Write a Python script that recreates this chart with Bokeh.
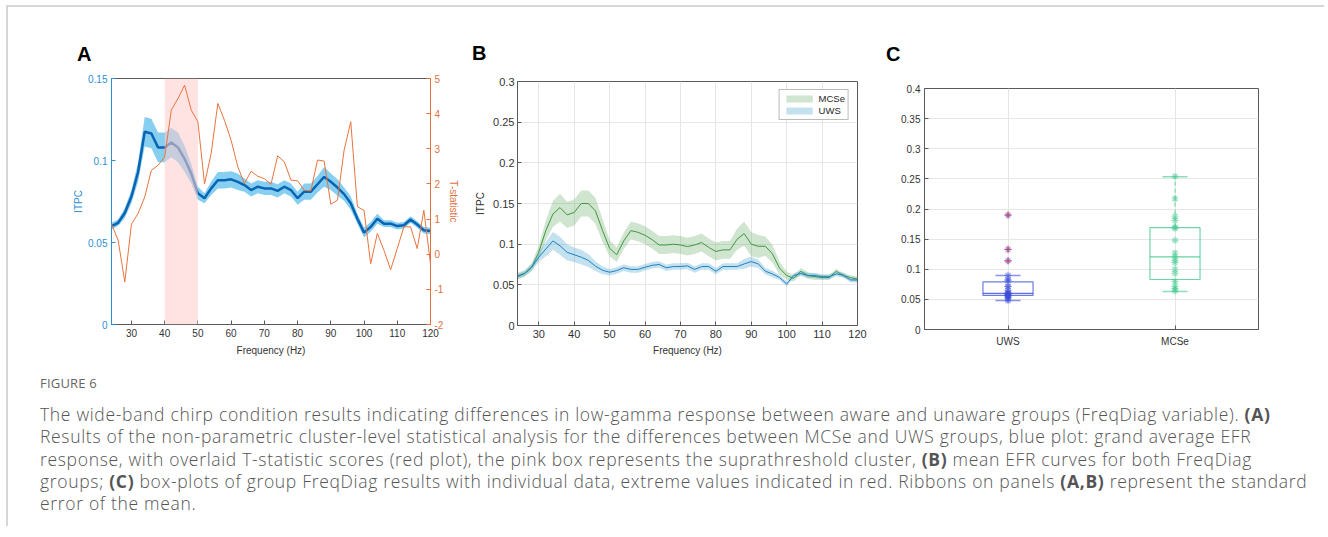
from bokeh.plotting import figure
from bokeh.models import (Range1d, LinearAxis, FixedTicker, CustomJSTickFormatter,
                          Legend, LegendItem, Div, BoxAnnotation)
from bokeh.embed import file_html
from bokeh.resources import INLINE

# ---------------- data ----------------
freq = [24, 26, 28, 30, 32, 34, 36, 38, 40, 42, 44, 46, 48, 50, 52, 54, 56, 58, 60, 62,
        64, 66, 68, 70, 72, 74, 76, 78, 80, 82, 84, 86, 88, 90, 92, 94, 96, 98, 100, 102,
        104, 106, 108, 110, 112, 114, 116, 118, 120]

a_itpc = [0.060, 0.062, 0.068, 0.078, 0.093, 0.1175, 0.1165, 0.108, 0.108, 0.111, 0.108, 0.101,
          0.092, 0.080, 0.077, 0.083, 0.088, 0.088, 0.0885, 0.087, 0.085, 0.082, 0.084, 0.083,
          0.083, 0.0815, 0.084, 0.082, 0.077, 0.081, 0.081, 0.0855, 0.090, 0.087, 0.0835, 0.0795,
          0.074, 0.0645, 0.056, 0.0595, 0.0645, 0.0615, 0.0615, 0.060, 0.0605, 0.064, 0.061,
          0.0575, 0.057]
a_sem = [0.002, 0.002, 0.003, 0.004, 0.006, 0.009, 0.009, 0.009, 0.009, 0.009, 0.009, 0.008,
         0.006, 0.004, 0.003, 0.004, 0.005, 0.005, 0.005, 0.005, 0.004, 0.004, 0.004, 0.004,
         0.004, 0.004, 0.004, 0.004, 0.004, 0.005, 0.005, 0.005, 0.006, 0.005, 0.005, 0.004,
         0.004, 0.003, 0.003, 0.003, 0.003, 0.002, 0.002, 0.002, 0.002, 0.002, 0.002, 0.002, 0.002]
a_tstat = [0.85, 0.40, -0.79, 0.85, 1.16, 1.63, 2.39, 2.53, 2.77, 4.10, 4.43, 4.81, 4.10, 3.77,
           2.00, 2.87, 4.29, 3.81, 3.24, 2.49, 2.01, 2.36, 2.22, 2.15, 1.99, 2.80, 2.63, 2.11,
           2.09, 1.82, 1.80, 2.68, 2.65, 1.42, 1.54, 2.96, 3.77, 1.35, 1.25, -0.27, 0.59, 0.11,
           -0.44, 0.16, 0.78, 0.78, 0.16, 1.25, -0.27]
cluster = [40, 50]

b_mcse = [0.061, 0.064, 0.0716, 0.090, 0.1167, 0.137, 0.145, 0.136, 0.139, 0.150, 0.150, 0.141,
          0.117, 0.095, 0.087, 0.104, 0.1167, 0.1146, 0.111, 0.1056, 0.099, 0.099, 0.100, 0.099,
          0.097, 0.099, 0.102, 0.096, 0.091, 0.093, 0.093, 0.106, 0.113, 0.100, 0.0974, 0.0974,
          0.088, 0.0704, 0.0614, 0.058, 0.0667, 0.0614, 0.060, 0.059, 0.059, 0.0667, 0.0614,
          0.059, 0.057]
b_mcse_sem = [0.004, 0.004, 0.005, 0.008, 0.012, 0.016, 0.017, 0.016, 0.016, 0.016, 0.016, 0.016,
              0.014, 0.010, 0.009, 0.010, 0.011, 0.011, 0.011, 0.011, 0.011, 0.011, 0.011, 0.011,
              0.011, 0.011, 0.011, 0.011, 0.011, 0.011, 0.011, 0.013, 0.015, 0.015, 0.014, 0.012,
              0.011, 0.008, 0.005, 0.004, 0.004, 0.004, 0.004, 0.003, 0.003, 0.003, 0.003, 0.003,
              0.003]
b_uws = [0.060, 0.064, 0.0716, 0.084, 0.094, 0.104, 0.098, 0.090, 0.087, 0.084, 0.080, 0.073,
         0.068, 0.0655, 0.0675, 0.071, 0.069, 0.069, 0.0716, 0.074, 0.075, 0.071, 0.0725, 0.0725,
         0.0733, 0.069, 0.0725, 0.0725, 0.0667, 0.0725, 0.0725, 0.0725, 0.0757, 0.0786, 0.0757,
         0.0667, 0.0634, 0.059, 0.051, 0.0614, 0.064, 0.0614, 0.0614, 0.060, 0.060, 0.0634,
         0.062, 0.056, 0.056]
b_uws_sem = [0.003, 0.003, 0.004, 0.006, 0.009, 0.011, 0.011, 0.010, 0.009, 0.009, 0.008, 0.006,
             0.005, 0.004, 0.004, 0.004, 0.004, 0.004, 0.004, 0.004, 0.004, 0.004, 0.004, 0.004,
             0.004, 0.004, 0.004, 0.004, 0.004, 0.004, 0.004, 0.004, 0.006, 0.006, 0.005, 0.004,
             0.004, 0.003, 0.003, 0.003, 0.003, 0.003, 0.003, 0.003, 0.003, 0.003, 0.003, 0.003,
             0.003]

c_groups = ["UWS", "MCSe"]
c_uws_vals = [0.190, 0.133, 0.114, 0.090, 0.083, 0.081, 0.072, 0.071, 0.065, 0.062, 0.060,
              0.059, 0.058, 0.057, 0.056, 0.055, 0.053, 0.051, 0.048]
c_uws_outliers = [0.190, 0.133, 0.114]
c_mcse_vals = [0.254, 0.217, 0.188, 0.181, 0.170, 0.168, 0.148, 0.127, 0.121, 0.115, 0.111,
               0.100, 0.093, 0.080, 0.072, 0.068, 0.064]
c_q1 = [0.0565, 0.083]
c_median = [0.060, 0.1205]
c_q3 = [0.079, 0.169]
c_whisk_lo = [0.048, 0.063]
c_whisk_hi = [0.0896, 0.2535]

freq_ticks = [30, 40, 50, 60, 70, 80, 90, 100, 110, 120]
freq_tick_labels = ["30", "40", "50", "60", "70", "80", "90", "100", "110", "120"]
a_itpc_ticks = [0, 0.05, 0.1, 0.15]
a_itpc_labels = ["0", "0.05", "0.1", "0.15"]
a_t_ticks = [-2, -1, 0, 1, 2, 3, 4, 5]
a_t_labels = ["-2", "-1", "0", "1", "2", "3", "4", "5"]
b_ticks = [0, 0.05, 0.1, 0.15, 0.2, 0.25, 0.3]
b_labels = ["0", "0.05", "0.1", "0.15", "0.2", "0.25", "0.3"]
c_ticks = [0, 0.05, 0.1, 0.15, 0.2, 0.25, 0.3, 0.35, 0.4]
c_labels = ["0", "0.05", "0.1", "0.15", "0.2", "0.25", "0.3", "0.35", "0.4"]

# ---------------- styling helpers ----------------
FONT = "Liberation Sans"
TXT = "#333333"
AX = "#5a5a5a"


def fmt(ticks, labels):
    return CustomJSTickFormatter(args=dict(t=ticks, l=labels), code="""
        for (let i = 0; i < t.length; i++) { if (Math.abs(tick - t[i]) < 1e-9) { return l[i]; } }
        return '';
    """)


def style_axis(ax, ticks, labels, color=AX, txt=TXT, size="10px", std=4, lstd=2):
    ax.ticker = FixedTicker(ticks=ticks)
    ax.formatter = fmt(ticks, labels)
    ax.major_tick_in = 4
    ax.major_tick_out = 0
    ax.minor_tick_line_color = None
    ax.axis_line_color = color
    ax.major_tick_line_color = color
    ax.major_label_text_color = txt
    ax.major_label_text_font = FONT
    ax.major_label_text_font_size = size
    ax.major_label_standoff = std
    ax.axis_label_text_font = FONT
    ax.axis_label_text_font_size = "10px"
    ax.axis_label_text_font_style = "normal"
    ax.axis_label_text_color = txt
    ax.axis_label_standoff = lstd


def place(left, top):
    return {"position": "absolute", "left": f"{left}px", "top": f"{top}px"}


def base_fig(fw, fh, xr, yr, bl, br, bt, bb, left, top):
    p = figure(frame_width=fw, frame_height=fh, x_range=xr, y_range=yr,
               min_border_left=bl, min_border_right=br, min_border_top=bt, min_border_bottom=bb,
               output_backend="svg", toolbar_location=None, styles=place(left, top))
    p.outline_line_color = AX
    p.background_fill_color = "white"
    p.border_fill_color = None
    return p


# ---------------- panel A ----------------
pA = base_fig(319, 246, Range1d(24, 120), Range1d(0, 0.15), 100, 38, 30, 40, 11, 48)
pA.extra_y_ranges = {"t": Range1d(-2, 5)}
pA.xgrid.visible = False
pA.ygrid.visible = False
style_axis(pA.xaxis[0], freq_ticks, freq_tick_labels, lstd=5)
pA.xaxis.axis_label = "Frequency (Hz)"
BLUE_AX = "#2d8fd5"
RED_AX = "#e2703d"
style_axis(pA.yaxis[0], a_itpc_ticks, a_itpc_labels, color=BLUE_AX, txt=BLUE_AX, std=4, lstd=1)
pA.yaxis.axis_label = "ITPC"
ax_t = LinearAxis(y_range_name="t", axis_label="T-statistic")
style_axis(ax_t, a_t_ticks, a_t_labels, color=RED_AX, txt=RED_AX, std=4, lstd=2)
pA.add_layout(ax_t, "right")

a_lo = [m - s for m, s in zip(a_itpc, a_sem)]
a_hi = [m + s for m, s in zip(a_itpc, a_sem)]
pA.varea(x=freq, y1=a_lo, y2=a_hi, fill_color="#86cff1")
pA.line(freq, a_itpc, line_width=2.5, line_color="#0a64b4")
pA.add_layout(BoxAnnotation(left=cluster[0], right=cluster[1], fill_color="#ffcccc",
                            fill_alpha=0.55, line_color=None))
rt = pA.line(freq, a_tstat, y_range_name="t", line_color="#e8743f", line_width=1)
rt.level = "overlay"

# ---------------- panel B ----------------
pB = base_fig(340, 244, Range1d(24, 120), Range1d(0, 0.3), 45, 24, 30, 40, 472, 51)
style_axis(pB.xaxis[0], freq_ticks, freq_tick_labels, size="11px", lstd=4)
pB.xaxis.axis_label = "Frequency (Hz)"
style_axis(pB.yaxis[0], b_ticks, b_labels, size="11px", std=3, lstd=4)
pB.yaxis.axis_label = "ITPC"
pB.xgrid.ticker = FixedTicker(ticks=freq_ticks)
pB.ygrid.ticker = FixedTicker(ticks=b_ticks)
pB.grid.grid_line_color = "#e6e6e6"

g_lo = [m - s for m, s in zip(b_mcse, b_mcse_sem)]
g_hi = [m + s for m, s in zip(b_mcse, b_mcse_sem)]
u_lo = [m - s for m, s in zip(b_uws, b_uws_sem)]
u_hi = [m + s for m, s in zip(b_uws, b_uws_sem)]
rg = pB.varea(x=freq, y1=g_lo, y2=g_hi, fill_color="#5fa85f", fill_alpha=0.3)
pB.line(freq, b_mcse, line_color="#3f973f", line_width=1)
ru = pB.varea(x=freq, y1=u_lo, y2=u_hi, fill_color="#3a9ccc", fill_alpha=0.3)
pB.line(freq, b_uws, line_color="#1f7fc0", line_width=1)
leg = Legend(items=[LegendItem(label="MCSe", renderers=[rg]), LegendItem(label="UWS", renderers=[ru])],
             location="top_right", margin=8, padding=3, spacing=1, glyph_width=33, glyph_height=9,
             label_standoff=3, label_text_font=FONT, label_text_font_size="9.5px",
             label_text_color="#262626", label_height=9, border_line_color="#777777",
             background_fill_alpha=1)
pB.add_layout(leg)

# ---------------- panel C ----------------
pos = [i + 1 for i in range(len(c_groups))]
pC = base_fig(334, 241, Range1d(0.5, 2.5), Range1d(0, 0.4), 40, 20, 30, 32, 884, 58)
style_axis(pC.xaxis[0], pos, c_groups, std=6)
style_axis(pC.yaxis[0], c_ticks, c_labels, std=4)
pC.xgrid.ticker = FixedTicker(ticks=pos)
pC.ygrid.ticker = FixedTicker(ticks=c_ticks)
pC.grid.grid_line_color = "#e6e6e6"

c_cols = ["#3a4fd8", "#3cc88c"]
box_w = 0.3
cap_w = 0.15
pC.quad(left=[p - box_w / 2 for p in pos], right=[p + box_w / 2 for p in pos],
        bottom=c_q1, top=c_q3, fill_color=None, line_color=c_cols, line_alpha=0.75, line_width=1.2)
pC.segment(x0=[p - box_w / 2 for p in pos], x1=[p + box_w / 2 for p in pos],
           y0=c_median, y1=c_median, line_color=c_cols, line_alpha=0.8, line_width=1.2)
pC.segment(x0=pos, x1=pos, y0=c_q3, y1=c_whisk_hi, line_color=c_cols, line_dash="4 3", line_alpha=0.8)
pC.segment(x0=pos, x1=pos, y0=c_q1, y1=c_whisk_lo, line_color=c_cols, line_dash="4 3", line_alpha=0.8)
pC.segment(x0=[p - cap_w / 2 for p in pos], x1=[p + cap_w / 2 for p in pos],
           y0=c_whisk_hi, y1=c_whisk_hi, line_color=c_cols, line_alpha=0.6, line_width=1.5)
pC.segment(x0=[p - cap_w / 2 for p in pos], x1=[p + cap_w / 2 for p in pos],
           y0=c_whisk_lo, y1=c_whisk_lo, line_color=c_cols, line_alpha=0.6, line_width=1.5)
pC.scatter(x=[pos[0]] * len(c_uws_vals), y=c_uws_vals, marker="asterisk", size=7,
           line_color=c_cols[0], line_alpha=0.55, line_width=1.2)
pC.scatter(x=[pos[1]] * len(c_mcse_vals), y=c_mcse_vals, marker="asterisk", size=7,
           line_color=c_cols[1], line_alpha=0.55, line_width=1.2)
pC.scatter(x=[pos[0]] * len(c_uws_outliers), y=c_uws_outliers, marker="cross", size=7,
           line_color="#e8283c", line_alpha=0.8, line_width=1)

# ---------------- labels, border, caption ----------------
def panel_label(txt, left, top):
    return Div(text=f"<div style=\"font: bold 20px 'Liberation Sans'; line-height:22px; color:#000;\">{txt}</div>",
               width=20, height=22, margin=0, styles=place(left, top))


labA = panel_label("A", 77, 43)
labB = panel_label("B", 472, 42)
labC = panel_label("C", 886, 43)

frame_div = Div(text="", width=1318, height=521, margin=0,
                styles={**place(6, 5), "border-top": "2px solid #d6d6d6",
                        "border-left": "2px solid #d6d6d6"})

cap_html = """
<div style="font-family:'Open Sans'; color:#555555; white-space:nowrap;">
<div style="font-size:13px; line-height:16px; padding-top:11px; color:#666666; letter-spacing:0.2px;">FIGURE 6</div>
<div style="font-size:17.5px; line-height:22.3px; margin-top:12px; font-weight:300; letter-spacing:0.68px;">
The wide-band chirp condition results indicating differences in low-gamma response between aware and unaware groups (FreqDiag variable). <b style="font-weight:700;">(A)</b><br>
Results of the non-parametric cluster-level statistical analysis for the differences between MCSe and UWS groups, blue plot: grand average EFR<br>
response, with overlaid T-statistic scores (red plot), the pink box represents the suprathreshold cluster, <b style="font-weight:700;">(B)</b> mean EFR curves for both FreqDiag<br>
groups; <b style="font-weight:700;">(C)</b> box-plots of group FreqDiag results with individual data, extreme values indicated in red. Ribbons on panels <b style="font-weight:700;">(A,B)</b> represent the standard<br>
error of the mean.
</div></div>
"""
caption = Div(text=cap_html, width=1285, height=162, margin=0, styles=place(40, 364))

with open("out.html", "w") as f:
    f.write(file_html([frame_div, pA, pB, pC, labA, labB, labC, caption], INLINE))
